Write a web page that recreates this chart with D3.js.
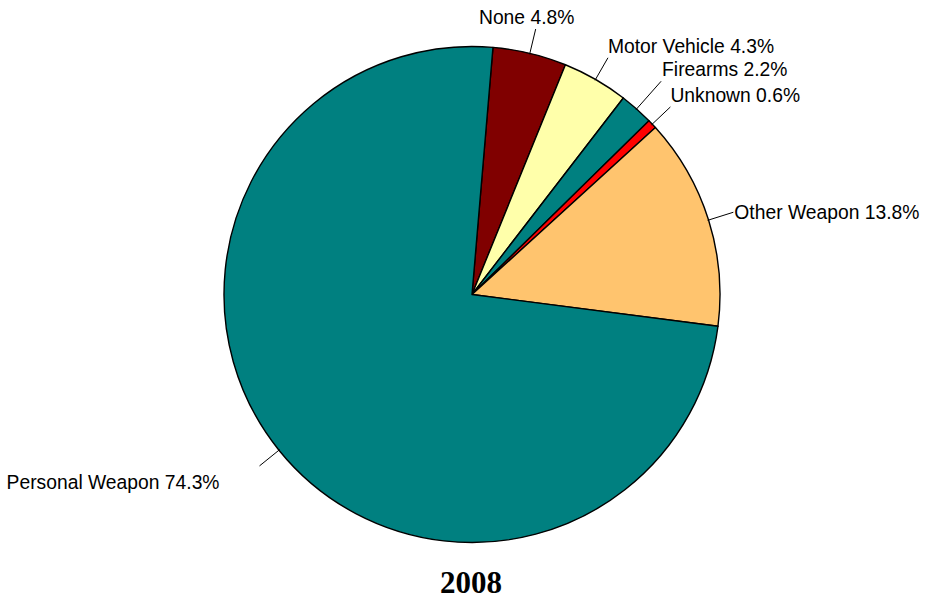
<!DOCTYPE html>
<html>
<head>
<meta charset="utf-8">
<script src="https://cdn.jsdelivr.net/npm/d3@7"></script>
<style>
  html, body { margin: 0; padding: 0; background: #fff; }
  svg { display: block; }
</style>
</head>
<body>
<script>
// ---- data ----
const categories = ["None", "Motor Vehicle", "Firearms", "Unknown", "Other Weapon", "Personal Weapon"];
const values = [4.8, 4.3, 2.2, 0.6, 13.8, 74.3];
const colors = ["#800000", "#FFFFAA", "#008080", "#FF0000", "#FFC46E", "#008080"];
const title = "2008";

// ---- layout (label placement relative to leader end) ----
const labelLayout = [
  { ext: 25, anchor: "middle", dx: -9, dy: -5 },
  { ext: 25, anchor: "start", dx: 0, dy: -5 },
  { ext: 37, anchor: "start", dx: 1, dy: -5 },
  { ext: 25, anchor: "start", dx: 0, dy: -5 },
  { ext: 26, anchor: "start", dx: 1, dy: 7 },
  { ext: 25, anchor: "end", dx: -40, dy: 23 }
];

const W = 935, H = 602;
const cx = 472, cy = 294.5, R = 248;
const start = 4.85 * Math.PI / 180;

const svg = d3.select("body").append("svg").attr("width", W).attr("height", H);
const g = svg.append("g").attr("transform", `translate(${cx},${cy})`);

const data = categories.map((c, i) => ({ name: c, value: values[i], color: colors[i], lay: labelLayout[i] }));
const pie = d3.pie().sort(null).value(d => d.value).startAngle(start).endAngle(start + 2 * Math.PI);
const arcs = pie(data);
const arc = d3.arc().innerRadius(0).outerRadius(R);

g.selectAll("path.slice").data(arcs).enter().append("path")
  .attr("class", "slice")
  .attr("d", arc)
  .attr("fill", d => d.data.color)
  .attr("stroke", "#000")
  .attr("stroke-width", 1.4)
  .attr("stroke-linejoin", "round");

const fmt = d3.format(".1f");
arcs.forEach(a => {
  const mid = (a.startAngle + a.endAngle) / 2;
  const sx = Math.sin(mid), sy = -Math.cos(mid);
  const r1 = R - 1, r2 = R + a.data.lay.ext;
  const x1 = r1 * sx, y1 = r1 * sy, x2 = r2 * sx, y2 = r2 * sy;
  g.append("line")
    .attr("x1", x1).attr("y1", y1).attr("x2", x2).attr("y2", y2)
    .attr("stroke", "#000").attr("stroke-width", 1);
  g.append("text")
    .attr("x", x2 + a.data.lay.dx)
    .attr("y", y2 + a.data.lay.dy)
    .attr("text-anchor", a.data.lay.anchor)
    .attr("font-family", "Liberation Sans, Arial, sans-serif")
    .attr("font-size", 19.3)
    .attr("fill", "#000")
    .style("white-space", "pre")
    .text(a.data.name + " " + fmt(a.data.value) + "%");
});

svg.append("text")
  .attr("x", 471).attr("y", 593)
  .attr("text-anchor", "middle")
  .attr("font-family", "Liberation Serif, Times New Roman, serif")
  .attr("font-weight", "bold")
  .attr("font-size", 31)
  .text(title);
</script>
</body>
</html>
